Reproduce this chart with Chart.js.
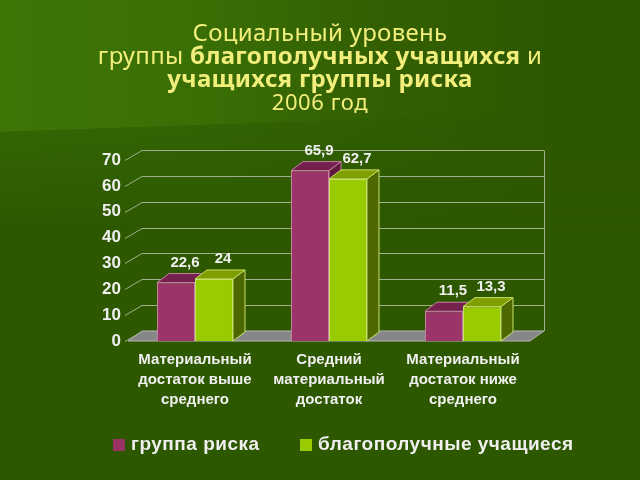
<!DOCTYPE html>
<html lang="ru">
<head>
<meta charset="utf-8">
<title>Социальный уровень</title>
<script src="https://cdn.jsdelivr.net/npm/chart.js@4.4.1/dist/chart.umd.min.js"></script>
<style>
  html, body { margin: 0; padding: 0; }
  body {
    width: 640px; height: 480px; overflow: hidden; position: relative;
    background: #2e5800;
    font-family: "Liberation Sans", Arial, sans-serif;
  }
  .bg-light {
    position: absolute; left: 0; top: 0; width: 640px; height: 140px;
    clip-path: polygon(0 0, 640px 0, 640px 110px, 0 132px);
    background: linear-gradient(90deg, #3e7507 0%, #3a6f05 30%, #335f02 60%, #2e5800 85%);
  }
  .bg-fade {
    position: absolute; left: 0; top: 110px; width: 640px; height: 120px;
    clip-path: polygon(0 22px, 640px 0, 640px 120px, 0 120px);
    background: linear-gradient(90deg, #356804 0%, #336404 35%, #305d02 60%, #2e5800 85%);
    -webkit-mask-image: linear-gradient(180deg, rgba(0, 0, 0, 1), rgba(0, 0, 0, 0));
    mask-image: linear-gradient(180deg, rgba(0, 0, 0, 1), rgba(0, 0, 0, 0));
  }
  canvas { position: absolute; left: 0; top: 0; }
  .title {
    position: absolute; left: 0; top: 20px; width: 640px;
    text-align: center; color: #f2ee7c;
    font-family: "Noto Sans", sans-serif; font-size: 24px; line-height: 23px;
    letter-spacing: 0.3px;
  }
  .title .year { font-size: 22px; letter-spacing: 0.6px; }
  .legend-item {
    position: absolute; top: 431px; height: 26px; line-height: 26px;
    color: #f0f0f0; font-weight: bold; font-size: 19px; letter-spacing: 0.5px;
  }
  .legend-item i {
    display: inline-block; width: 12px; height: 12px; margin-right: 6px;
    vertical-align: -1px;
  }
</style>
</head>
<body>
<div class="bg-light"></div>
<div class="bg-fade"></div>
<canvas id="chart" width="640" height="480"></canvas>
<div class="title">
  Социальный уровень<br>
  группы <b>благополучных учащихся</b> и<br>
  <b>учащихся группы риска</b><br>
  <span class="year">2006 год</span>
</div>
<div class="legend-item" style="left:113px"><i style="background:#993366"></i>группа риска</div>
<div class="legend-item" style="left:300px"><i style="background:#99cc00"></i>благополучные учащиеся</div>

<script>
// categories (multi-line axis labels)
const categories = [
  ["Материальный", "достаток выше", "среднего"],
  ["Средний", "материальный", "достаток"],
  ["Материальный", "достаток ниже", "среднего"],
];

// series
const riskGroup = [22.6, 65.9, 11.5];
const wellOffStudents = [24, 62.7, 13.3];

// value axis
const yMin = 0;
const yMax = 70;
const yStep = 10;

// depth of the fake 3d effect
const WALL_DX = 14, WALL_DY = -10;
const BAR_DX = 12, BAR_DY = -9;

const textColor = "#f0f0f0";
const gridColor = "#9fb08c";

function formatValue(v) {
  return String(v).replace(".", ",");
}

const depthPlugin = {
  id: "depth3d",
  beforeDatasetsDraw(chart) {
    const { ctx, chartArea: a, scales } = chart;
    const y = scales.y;
    const y0 = y.getPixelForValue(yMin);
    ctx.save();

    // floor
    ctx.beginPath();
    ctx.moveTo(a.left, y0);
    ctx.lineTo(a.right, y0);
    ctx.lineTo(a.right + WALL_DX, y0 + WALL_DY);
    ctx.lineTo(a.left + WALL_DX, y0 + WALL_DY);
    ctx.closePath();
    ctx.fillStyle = "#878787";
    ctx.fill();
    ctx.strokeStyle = "#b4b4b4";
    ctx.lineWidth = 1;
    ctx.stroke();

    // back wall grid + short diagonals on the side wall
    ctx.strokeStyle = gridColor;
    y.ticks.forEach((t) => {
      const py = Math.round(y.getPixelForValue(t.value)) + 0.5;
      ctx.beginPath();
      ctx.moveTo(a.left - 3, py);
      ctx.lineTo(a.left + WALL_DX, py + WALL_DY);
      if (t.value !== yMin) ctx.lineTo(a.right + WALL_DX, py + WALL_DY);
      ctx.stroke();
    });

    // right edge of the back wall
    const yTop = Math.round(y.getPixelForValue(yMax)) + 0.5;
    ctx.beginPath();
    ctx.moveTo(a.right + WALL_DX + 0.5, yTop + WALL_DY);
    ctx.lineTo(a.right + WALL_DX + 0.5, y0 + WALL_DY);
    ctx.stroke();

    // side and top faces of every bar, before the library paints the fronts,
    // so the neighbouring front hides what it should
    chart.data.datasets.forEach((ds, i) => {
      ctx.strokeStyle = ds.edgeColor;
      chart.getDatasetMeta(i).data.forEach((bar) => {
        const { x, y: top, base, width } = bar.getProps(["x", "y", "base", "width"], true);
        const l = x - width / 2;
        const r = x + width / 2;

        ctx.beginPath();
        ctx.moveTo(r, top);
        ctx.lineTo(r + BAR_DX, top + BAR_DY);
        ctx.lineTo(r + BAR_DX, base + BAR_DY);
        ctx.lineTo(r, base);
        ctx.closePath();
        ctx.fillStyle = ds.sideColor;
        ctx.fill();
        ctx.stroke();

        ctx.beginPath();
        ctx.moveTo(l, top);
        ctx.lineTo(r, top);
        ctx.lineTo(r + BAR_DX, top + BAR_DY);
        ctx.lineTo(l + BAR_DX, top + BAR_DY);
        ctx.closePath();
        ctx.fillStyle = ds.topColor;
        ctx.fill();
        ctx.stroke();
      });
    });
    ctx.restore();
  },
  afterDatasetsDraw(chart) {
    const { ctx } = chart;
    ctx.save();
    ctx.font = "bold 15px 'Liberation Sans', Arial, sans-serif";
    ctx.fillStyle = textColor;
    ctx.textAlign = "center";
    ctx.textBaseline = "middle";
    chart.data.datasets.forEach((ds, i) => {
      chart.getDatasetMeta(i).data.forEach((bar, j) => {
        const { x, y } = bar.getProps(["x", "y"], true);
        ctx.fillText(formatValue(ds.data[j]), x + 9, y + BAR_DY - 11);
      });
    });
    ctx.restore();
  },
};

new Chart(document.getElementById("chart"), {
  type: "bar",
  data: {
    labels: categories,
    datasets: [
      {
        label: "группа риска",
        data: riskGroup,
        backgroundColor: "#9b3468",
        borderColor: "#c77fa3",
        borderWidth: 1,
        topColor: "#74224d",
        sideColor: "#5e1a3e",
        edgeColor: "#c77fa3",
        barPercentage: 1,
        categoryPercentage: 0.567,
      },
      {
        label: "благополучные учащиеся",
        data: wellOffStudents,
        backgroundColor: "#99cc00",
        borderColor: "#c6e06a",
        borderWidth: 1,
        topColor: "#7f9f00",
        sideColor: "#4d6800",
        edgeColor: "#c6e06a",
        barPercentage: 1,
        categoryPercentage: 0.567,
      },
    ],
  },
  options: {
    responsive: false,
    animation: false,
    devicePixelRatio: 1,
    layout: { padding: { left: 88, right: 110, top: 160, bottom: 39 } },
    plugins: {
      legend: { display: false },
      tooltip: { enabled: false },
      title: { display: false },
    },
    scales: {
      x: {
        grid: { display: false, drawTicks: false },
        border: { display: false },
        ticks: {
          color: textColor,
          autoSkip: false,
          maxRotation: 0,
          padding: 9,
          font: { family: "'Liberation Sans', Arial, sans-serif", size: 15, weight: "bold", lineHeight: "20px" },
        },
        afterFit(scale) { scale.height = 100; },
      },
      y: {
        min: yMin,
        max: yMax,
        grid: { display: false, drawTicks: false },
        border: { display: false },
        ticks: {
          stepSize: yStep,
          color: textColor,
          padding: 7,
          font: { family: "'Liberation Sans', Arial, sans-serif", size: 17, weight: "bold" },
        },
        afterFit(scale) { scale.width = 40; },
      },
    },
  },
  plugins: [depthPlugin],
});
</script>
</body>
</html>
